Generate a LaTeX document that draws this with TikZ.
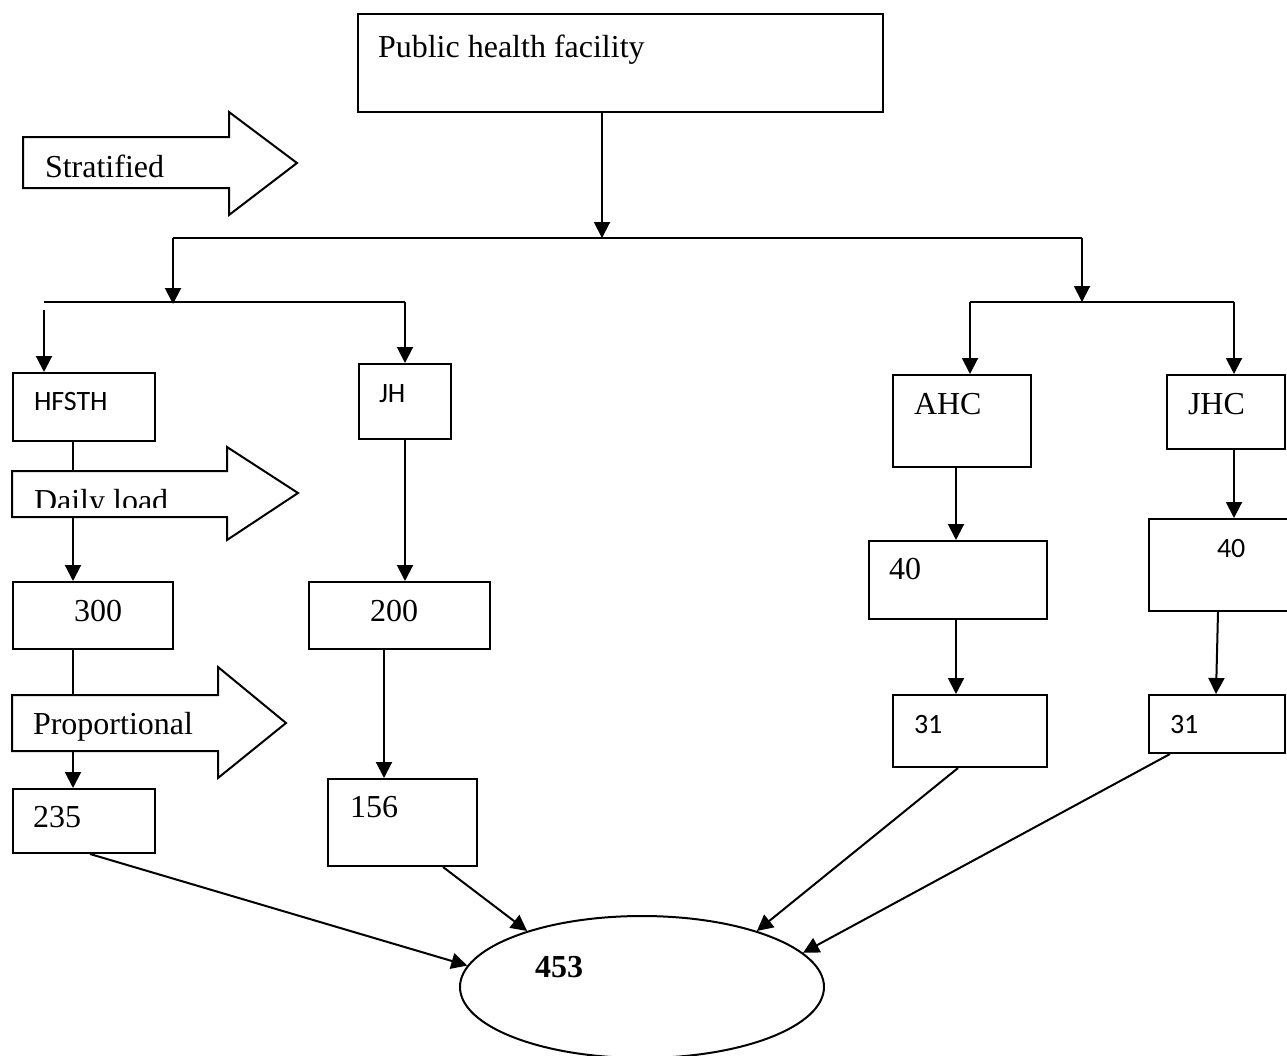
\documentclass[tikz,border=0pt]{standalone}
\usepackage{fontspec}
\setmainfont{Liberation Serif}
\newfontfamily\calibri{Carlito}
\usetikzlibrary{shapes.geometric,arrows.meta,calc}

\tikzset{
  box/.style={draw, rectangle, anchor=north west, inner sep=0pt},
  txt/.style={anchor=base west, inner sep=0pt, font=\fontsize{32}{38}\selectfont},
  stxt/.style={anchor=base west, inner sep=0pt, font=\calibri\fontsize{28}{34}\selectfont},
  arr/.style={-{Triangle[length=16pt,width=16pt]}},
  fat/.style={draw, fill=white},
}

\begin{document}
\begin{tikzpicture}[x=1pt, y=-1pt, line width=2pt]
  \useasboundingbox (0,0) rectangle (1287,1055);

  % Top box
  \node[box, minimum width=525, minimum height=98] (phf) at (357,13) {};
  \node[txt] (phftext) at (377,57) {Public health facility};

  % Stratified arrow
  \draw[fat] (23,137) -- (229,137) -- (229,112) -- (297,163) -- (229,215) -- (229,188) -- (23,188) -- cycle;
  \node[txt] (strat) at (44,177) {Stratified};

  % First split
  \coordinate (s1) at (602,238);
  \coordinate (s1l) at (173,238);
  \coordinate (s1r) at (1082,238);
  \coordinate (s2l) at (173,304);
  \coordinate (s2r) at (1082,302);
  \draw[arr] (phf.south -| s1) -- (s1);
  \draw (s1l) -- (s1r);
  \draw[arr] (s1l) -- (s2l);
  \draw[arr] (s1r) -- (s2r);

  % Second split
  \coordinate (l1) at (44,302);
  \coordinate (l1b) at (44,310);
  \coordinate (l2) at (405,302);
  \coordinate (r1) at (970,302);
  \coordinate (r2) at (1234,302);
  \draw (l1) -- (l2);
  \draw (r1) -- (r2);

  % Facility boxes
  \node[box, minimum width=142, minimum height=68] (hfsth) at (12,372) {};
  \node[stxt] (hfsthtext) at (33,410) {HFSTH};
  \node[box, minimum width=92, minimum height=75] (jh) at (358,363) {};
  \node[stxt] (jhtext) at (378,402) {JH};
  \node[box, minimum width=138, minimum height=92] (ahc) at (892,374) {};
  \node[txt] (ahctext) at (913,414) {AHC};
  \node[box, minimum width=118, minimum height=74] (jhc) at (1166,374) {};
  \node[txt] (jhctext) at (1187,414) {JHC};

  \draw[arr] (l1b) -- (hfsth.north -| l1);
  \draw[arr] (l2) -- (jh.north -| l2);
  \draw[arr] (r1) -- (ahc.north -| r1);
  \draw[arr] (r2) -- (jhc.north -| r2);

  % Daily load arrow
  \draw[fat] (12,471) -- (227,471) -- (227,447) -- (298,493) -- (227,540) -- (227,517) -- (12,517) -- cycle;
  \begin{scope}
    \clip (12,471) rectangle (227,507);
    \node[txt] (daily) at (33,511) {Daily load};
  \end{scope}

  % Daily load boxes
  \node[box, minimum width=160, minimum height=67] (b300) at (12,581) {};
  \node[txt] (t300) at (73,621) {300};
  \node[box, minimum width=181, minimum height=67] (b200) at (308,581) {};
  \node[txt] (t200) at (369,621) {200};
  \node[box, minimum width=178, minimum height=78] (b40a) at (868,540) {};
  \node[txt] (t40a) at (888,579) {40};
  \node[box, minimum width=150, minimum height=92] (b40j) at (1148,518) {};
  \node[stxt] (t40j) at (1216,557) {40};

  % Proportional arrow
  \draw[fat] (12,695) -- (218,695) -- (218,667) -- (286,723) -- (218,778) -- (218,751) -- (12,751) -- cycle;
  \node[txt] (prop) at (32,734) {Proportional};

  % Sample boxes
  \node[box, minimum width=142, minimum height=64] (b235) at (12,788) {};
  \node[txt] (t235) at (32,827) {235};
  \node[box, minimum width=149, minimum height=87] (b156) at (327,778) {};
  \node[txt] (t156) at (349,817) {156};
  \node[box, minimum width=154, minimum height=72] (b31a) at (892,694) {};
  \node[stxt] (t31a) at (913,733) {31};
  \node[box, minimum width=136, minimum height=58] (b31j) at (1148,694) {};
  \node[stxt] (t31j) at (1169,733) {31};

  % Column connectors
  \coordinate (lc) at (73,0);
  \coordinate (dtop) at (73,471);
  \coordinate (dbot) at (73,517);
  \coordinate (ptop) at (73,695);
  \coordinate (pbot) at (73,751);
  \coordinate (jc1) at (405,0);
  \coordinate (jc2) at (384,0);
  \coordinate (ac) at (956,0);
  \coordinate (jc3a) at (1218,0);
  \coordinate (jc3b) at (1216,0);
  \draw (hfsth.south -| lc) -- (dtop);
  \draw[arr] (dbot) -- (b300.north -| lc);
  \draw (b300.south -| lc) -- (ptop);
  \draw[arr] (pbot) -- (b235.north -| lc);
  \draw[arr] (jh.south -| jc1) -- (b200.north -| jc1);
  \draw[arr] (b200.south -| jc2) -- (b156.north -| jc2);
  \draw[arr] (ahc.south -| ac) -- (b40a.north -| ac);
  \draw[arr] (b40a.south -| ac) -- (b31a.north -| ac);
  \draw[arr] (jhc.south -| r2) -- (b40j.north -| r2);
  \draw[arr] (b40j.south -| jc3a) -- (b31j.north -| jc3b);

  % Total
  \node[draw, ellipse, minimum width=364, minimum height=142, inner sep=0pt] (total) at (642,987) {};
  \node[txt, font=\bfseries\fontsize{32}{38}\selectfont] (t453) at (534,977) {453};

  \draw[arr] ($(b235.south west)+(78,0)$) -- (total.173.5);
  \draw[arr] ($(b156.south west)+(116,0)$) -- (total.154);
  \draw[arr] ($(b31a.south west)+(66,0)$) -- (total.26);
  \draw[arr] ($(b31j.south west)+(22,0)$) -- (total.12.5);
\end{tikzpicture}
\end{document}
